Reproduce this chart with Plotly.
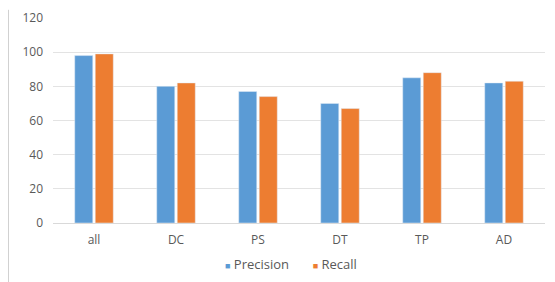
import plotly.graph_objects as go

categories = ["all", "DC", "PS", "DT", "TP", "AD"]
precision = [98, 80, 77, 70, 85, 82]
recall = [99, 82, 74, 67, 88, 83]
y_ticks = [0, 20, 40, 60, 80, 100, 120]

BLUE = "#5B9BD5"
ORANGE = "#ED7D31"

fig = go.Figure()
fig.add_trace(go.Bar(name="Precision", x=categories, y=precision, marker_color=BLUE, showlegend=False))
fig.add_trace(go.Bar(name="Recall", x=categories, y=recall, marker_color=ORANGE, showlegend=False))

fig.update_layout(
    width=555, height=282,
    margin=dict(l=45, r=18, t=10, b=67, autoexpand=False),
    paper_bgcolor="white", plot_bgcolor="white",
    barmode="group", bargap=0.5, bargroupgap=0.12,
    font=dict(family="Open Sans", size=12, color="#595959"),
    showlegend=False,
    xaxis=dict(showgrid=False, showline=True, linecolor="#D9D9D9", ticks="",
               ticklabelstandoff=6, tickfont=dict(size=12, color="#595959")),
    yaxis=dict(range=[0, 120], tickvals=y_ticks, showgrid=True, gridcolor="#E3E3E3",
               zeroline=False, showline=False, ticks="", ticklabelstandoff=9,
               tickfont=dict(size=12, color="#595959")),
)
fig.add_annotation(
    xref="paper", yref="paper", x=0.483, y=-0.2, xanchor="center", yanchor="middle",
    showarrow=False, font=dict(size=13, color="#595959"),
    text=(f"<span style='color:{BLUE};font-size:9px'>■</span> Precision"
          f"&nbsp;&nbsp;&nbsp;&nbsp;&nbsp;&nbsp;&nbsp;<span style='color:{ORANGE};font-size:9px'>■</span> Recall"),
)
fig.add_shape(type="line", xref="paper", yref="paper", x0=-0.0905, x1=-0.0905, y0=1.04, y1=-0.33,
              line=dict(color="#D0D0D0", width=1))
fig.write_html("out.html")
